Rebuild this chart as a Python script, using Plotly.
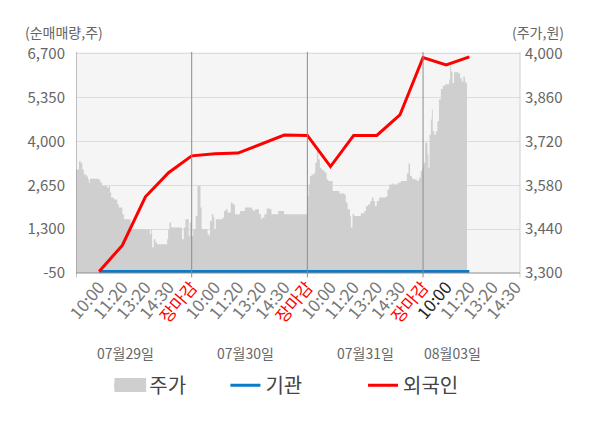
import plotly.graph_objects as go

# x positions are slot indexes: each trading day spans 5 slots (10:00, 11:20, 13:20, 14:30, 장마감)
days = ["07월29일", "07월30일", "07월31일", "08월03일"]
slot_labels = ["10:00", "11:20", "13:20", "14:30", "장마감"]

# 주가 (right axis, 원)
price_x = [0.0, 0.13, 0.2, 0.27, 0.34, 0.46, 0.52, 0.56, 0.6, 0.92, 0.99, 1.06, 1.13, 1.28, 1.35,
           1.42, 1.47, 1.52, 1.64, 1.78, 1.85, 2.0, 2.07, 2.21, 2.36, 3.15, 3.19, 3.25, 3.29, 3.36,
           3.43, 3.5, 3.86, 3.94, 3.98, 4.04, 4.11, 4.51, 4.58, 4.66, 4.73, 4.87, 4.92,
           4.97, 5.07, 5.17, 5.25, 5.33, 5.38, 5.43, 5.65, 5.69, 5.75, 5.79, 5.87, 5.94, 5.98, 6.04,
           6.3, 6.34, 6.4, 6.47, 6.55, 6.69, 6.77, 6.87, 7.02, 7.09, 7.23, 7.3, 7.52, 7.59, 7.66,
           7.74, 7.84, 7.91, 8.0, 8.05, 8.14, 8.24, 8.38, 8.45, 8.67, 8.74, 8.93, 8.99, 9.94,
           10.01, 10.05, 10.11, 10.18, 10.3, 10.34, 10.41, 10.47, 10.54, 10.61, 10.69, 10.76, 10.83,
           10.9, 11.05, 11.09, 11.3, 11.38, 11.59, 11.66, 11.74, 11.84, 11.88, 11.95, 12.03, 12.17,
           12.31, 12.46, 12.53, 12.63, 12.72, 12.79, 12.86, 12.92, 13.0, 13.1, 13.39, 13.46, 13.54,
           13.68, 13.75, 13.9, 14.04, 14.26, 14.3, 14.37, 14.44, 14.52, 14.62, 14.73, 14.83, 14.9,
           14.97, 15.02, 15.09, 15.13, 15.19, 15.23, 15.28, 15.34, 15.38, 15.42, 15.48, 15.55,
           15.62, 15.69, 15.77, 15.85, 15.95, 16.07, 16.13, 16.17, 16.21, 16.27, 16.34, 16.46,
           16.53, 16.6, 16.67, 16.74, 16.81, 16.85, 16.9]
price = [3631, 3657, 3652, 3631, 3615, 3608, 3599, 3588, 3601, 3601, 3596, 3588, 3578, 3578, 3572,
         3578, 3557, 3541, 3535, 3520, 3509, 3488, 3472, 3472, 3440, 3440, 3424, 3440, 3382, 3408,
         3398, 3392, 3392, 3408, 3440, 3461, 3445, 3445, 3408, 3445, 3472, 3419, 3461,
         3419, 3440, 3482, 3578, 3578, 3509, 3440, 3440, 3424, 3419, 3466, 3488, 3477, 3440, 3472,
         3472, 3477, 3498, 3504, 3493, 3525, 3520, 3488, 3488, 3498, 3498, 3509, 3509, 3504, 3498,
         3504, 3504, 3488, 3472, 3477, 3488, 3506, 3504, 3488, 3488, 3498, 3498, 3488, 3488,
         3546, 3583, 3610, 3615, 3620, 3652, 3689, 3663, 3636, 3631, 3625, 3620, 3599,
         3594, 3594, 3562, 3562, 3554, 3551, 3525, 3504, 3482, 3445, 3488, 3482, 3482,
         3491, 3498, 3514, 3520, 3530, 3541, 3530, 3514, 3530, 3541, 3544, 3567, 3583,
         3586, 3583, 3588, 3594, 3594, 3618, 3650, 3610, 3601, 3599, 3595, 3604, 3626,
         3636, 3652, 3716, 3716, 3679, 3636, 3742, 3790, 3822, 3753, 3742, 3753,
         3785, 3854, 3888, 3898, 3903, 3903, 3917, 3960, 3944, 3907, 3941, 3941,
         3937, 3922, 3912, 3927, 3912, 3907, 3907]

# 순매매량 (left axis, 주), one value per slot from day 1 10:00 to day 4 11:20
flow_x = list(range(1, 18))
inst = [0] * 17
foreign = [0, 800, 2300, 3040, 3560, 3625, 3645, 3920, 4200, 4190, 3230, 4190, 4190, 4820, 6590, 6360, 6610]

left_ticks = [-50, 1300, 2650, 4000, 5350, 6700]
right_ticks = [3300, 3440, 3580, 3720, 3860, 4000]

tick_vals, tick_text = [], []
for d in range(len(days)):
    for k, lab in enumerate(slot_labels):
        v = d * 5 + k + 1
        if v > 19:
            continue
        if lab == "장마감":
            lab = '<span style="color:#ff0000">장마감</span>'
        elif d == 3 and k == 0:
            lab = '<span style="color:#222222">' + lab + '</span>'
        tick_vals.append(v)
        tick_text.append(lab)

fig = go.Figure()
fig.add_trace(go.Scatter(x=price_x, y=price, name="주가", mode="lines", line=dict(width=0, shape="hv"),
                         fill="tozeroy", fillcolor="#cfcfcf", yaxis="y", legend="legend", showlegend=True))
fig.add_trace(go.Scatter(x=flow_x, y=inst, name="기관", mode="lines", line=dict(color="#0a7bc8", width=3),
                         yaxis="y2", legend="legend2", showlegend=True))
fig.add_trace(go.Scatter(x=flow_x, y=foreign, name="외국인", mode="lines", line=dict(color="#ff0000", width=3),
                         yaxis="y2", legend="legend3", showlegend=True))

# day separators with small ticks below the axis
for b in [0, 5, 10, 15]:
    fig.add_shape(type="line", xref="x", yref="paper", x0=b, x1=b, y0=-0.02, y1=1,
                  line=dict(color="#8c8c8c", width=1))
fig.add_shape(type="line", xref="paper", yref="paper", x0=1, x1=1, y0=-0.02, y1=1,
              line=dict(color="#d0d0d0", width=1))
fig.add_shape(type="line", xref="paper", yref="paper", x0=0, x1=1, y0=0, y1=0,
              line=dict(color="#8c8c8c", width=1))
# bigger swatch for the 주가 legend entry
fig.add_shape(type="rect", xref="paper", yref="paper", x0=0.0866, x1=0.158, y0=-0.538, y1=-0.475,
              fillcolor="#cfcfcf", line=dict(width=0))

for name, px in zip(days, [2.14, 7.32, 12.5, 16.26]):
    fig.add_annotation(x=px, y=-0.36, xref="x", yref="paper", text=name, showarrow=False,
                       yanchor="middle", font=dict(size=14, color="#666666"))
fig.add_annotation(x=-0.12, y=1.09, xref="paper", yref="paper", text="(순매매량,주)", showarrow=False,
                   xanchor="left", yanchor="middle", font=dict(size=14, color="#666666"))
fig.add_annotation(x=0.977, y=1.09, xref="paper", yref="paper", text="(주가,원)", showarrow=False,
                   xanchor="left", yanchor="middle", font=dict(size=14, color="#666666"))

legend_style = dict(orientation="h", yanchor="middle", y=-0.508, xanchor="left",
                    font=dict(size=20, color="#444444"), bgcolor="rgba(0,0,0,0)")

# the page body adds an 8px margin, so the figure is sized to fit the 600x428 window
fig.update_layout(
    width=592, height=420,
    margin=dict(l=67.5, r=80, t=44, b=154.5),
    showlegend=True,
    paper_bgcolor="white", plot_bgcolor="#f5f5f5",
    font=dict(family="Noto Sans CJK KR", color="#666666"),
    xaxis=dict(range=[0, 19.19], tickvals=tick_vals, ticktext=tick_text, tickangle=-50,
               tickfont=dict(size=17, color="#777777"), showgrid=False, zeroline=False,
               ticks="", showline=False),
    yaxis=dict(side="right", range=[3300, 4006], tickvals=right_ticks,
               ticktext=[f"{v:,}" for v in right_ticks], tickfont=dict(size=15, color="#666666"),
               showgrid=True, gridcolor="#dddddd", zeroline=False, ticks="", ticklabelstandoff=4),
    yaxis2=dict(side="left", overlaying="y", range=[-50, 6761], tickvals=left_ticks,
                ticktext=[f"{v:,}" for v in left_ticks], tickfont=dict(size=15, color="#666666"),
                showgrid=False, zeroline=False, ticks="", ticklabelstandoff=10),
    legend=dict(x=0.075, **legend_style),
    legend2=dict(x=0.3365, **legend_style),
    legend3=dict(x=0.6465, **legend_style),
)

fig.write_html("out.html")
